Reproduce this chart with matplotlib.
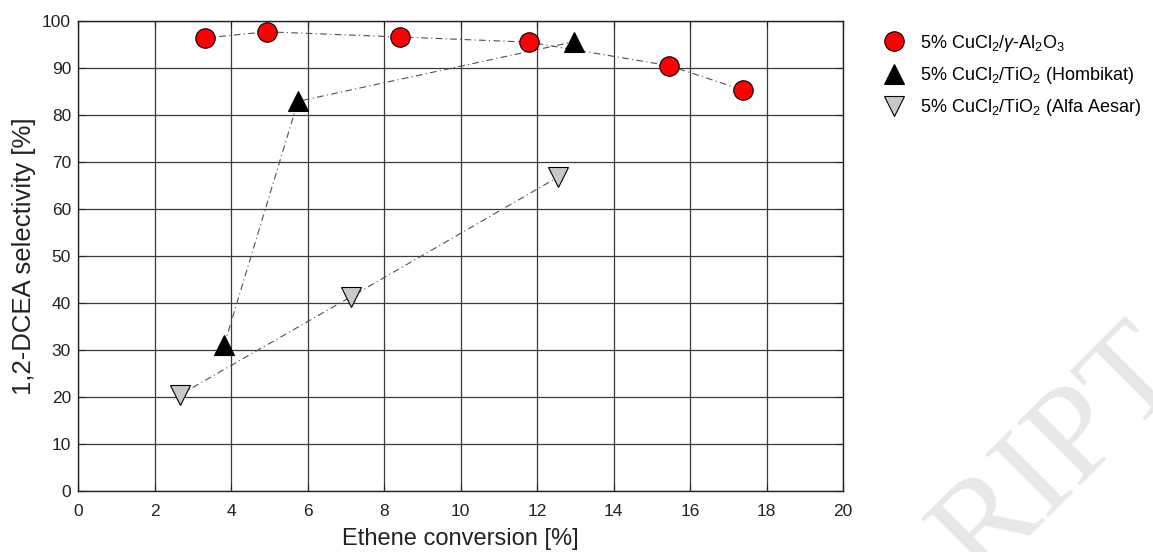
import matplotlib
matplotlib.use('Agg')
import matplotlib.pyplot as plt
import matplotlib.lines as mlines

plt.rcParams['font.family'] = ['Liberation Sans', 'DejaVu Sans']
plt.rcParams['mathtext.fontset'] = 'custom'
plt.rcParams['mathtext.rm'] = 'Liberation Sans'
plt.rcParams['mathtext.it'] = 'Liberation Sans:italic'

# datos
al2o3_x = [3.32, 4.94, 8.42, 11.79, 15.45, 17.39]
al2o3_y = [96.4, 97.7, 96.6, 95.5, 90.5, 85.3]

hombikat_x = [3.82, 5.75, 12.97]
hombikat_y = [31.0, 82.9, 95.6]

alfa_x = [2.67, 7.13, 12.55]
alfa_y = [20.5, 41.3, 66.8]

labels = [r'5% CuCl$_2$/$\gamma$-Al$_2$O$_3$',
          r'5% CuCl$_2$/TiO$_2$ (Hombikat)',
          r'5% CuCl$_2$/TiO$_2$ (Alfa Aesar)']

x_ticks = list(range(0, 21, 2))
y_ticks = list(range(0, 101, 10))

fig = plt.figure(figsize=(11.53, 5.52), dpi=100)
ax = fig.add_axes([78 / 1153, 1 - 491 / 552, 765 / 1153, 470 / 552])

dash = (0, (6, 3, 1, 3))
line_kw = dict(color='#505050', lw=0.8, linestyle=dash, zorder=3)

ax.plot(al2o3_x, al2o3_y, **line_kw)
ax.plot(hombikat_x, hombikat_y, **line_kw)
ax.plot(alfa_x, alfa_y, **line_kw)

ax.plot(al2o3_x, al2o3_y, 'o', ms=14, mfc='#ff0000', mec='black', mew=0.8, zorder=4)
ax.plot(hombikat_x, hombikat_y, '^', ms=15, mfc='black', mec='black', mew=0.8, zorder=4)
ax.plot(alfa_x, alfa_y, 'v', ms=15, mfc='#c8c8c8', mec='black', mew=0.8, zorder=4)

ax.set_xlim(0, 20)
ax.set_ylim(0, 100)
ax.set_xticks(x_ticks)
ax.set_yticks(y_ticks)
ax.grid(True, color='#3a3a3a', lw=0.9)
ax.set_axisbelow(True)
ax.tick_params(direction='in', top=True, right=True, length=5, labelsize=12.5,
               color='#222222', labelcolor='#222222', pad=5)
ax.tick_params(axis='x', pad=9)
for s in ax.spines.values():
    s.set_linewidth(1.0)
    s.set_color('#222222')

ax.set_xlabel('Ethene conversion [%]', fontsize=17, color='#222222', labelpad=7)
ax.set_ylabel('1,2-DCEA selectivity [%]', fontsize=18.5, color='#222222', labelpad=4)

# leyenda solo con marcadores
h1 = mlines.Line2D([], [], ls='none', marker='o', ms=14, mfc='#ff0000', mec='black', mew=0.8)
h2 = mlines.Line2D([], [], ls='none', marker='^', ms=15, mfc='black', mec='black', mew=0.8)
h3 = mlines.Line2D([], [], ls='none', marker='v', ms=15, mfc='#c8c8c8', mec='black', mew=0.8)
fig.legend([h1, h2, h3], labels, loc='upper left', bbox_to_anchor=(868 / 1153, 1 - 20 / 552),
           frameon=False, fontsize=13, handletextpad=0.7, labelspacing=0.62,
           borderpad=0.2, handlelength=1.5)

# marca de agua
fig.text(980 / 1153, 1 - 582 / 552, 'RIPT', rotation=45, rotation_mode='anchor',
         ha='left', va='baseline', fontsize=98, family='Liberation Serif',
         color='#e8e8e8', zorder=-1)

fig.savefig('out.png', dpi=100)
